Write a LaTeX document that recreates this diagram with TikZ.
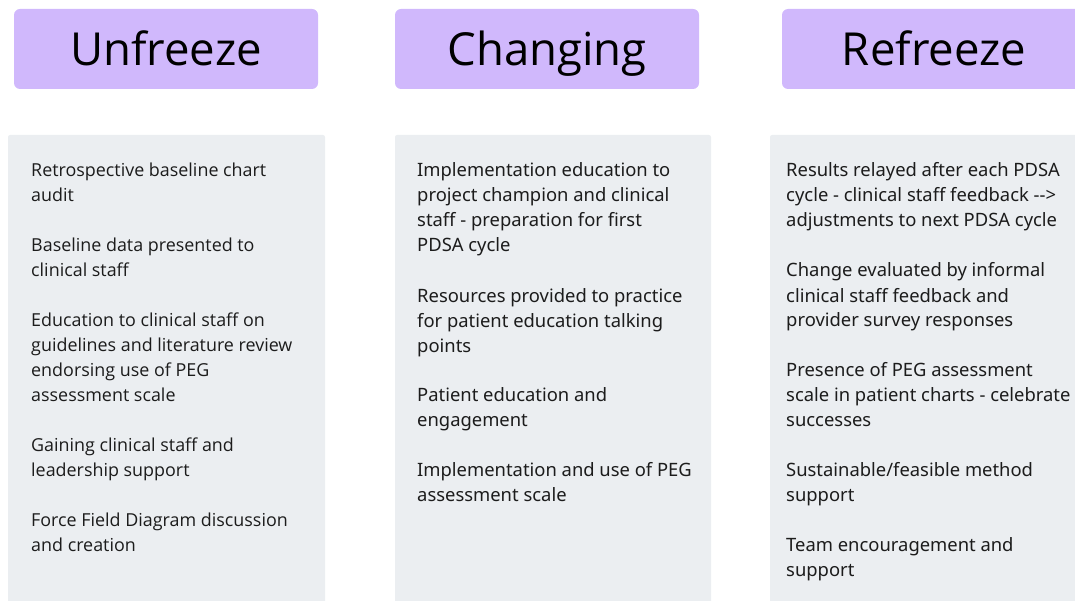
\documentclass[tikz,border=0pt]{standalone}
\usepackage{fontspec}
\setmainfont{Open Sans}
\newfontfamily\bodyfont{Noto Sans}
\definecolor{headfill}{HTML}{D0B8FC}
\definecolor{colfill}{HTML}{EBEEF1}
\definecolor{ink}{HTML}{1C1C1C}
% a block of lines, 25pt apart, whose baseline is that of its first line
\newcommand\lineblock[1]{\vtop{\baselineskip=25pt\lineskiplimit=-20pt #1}}
\newcommand\tline[1]{\hbox{#1}}
\begin{document}
\begin{tikzpicture}[x=1pt,y=-1pt,
  header/.style={fill=headfill,rounded corners=6pt},
  column/.style={fill=colfill,rounded corners=2pt},
  headtext/.style={anchor=base,font=\fontsize{45.5}{50}\selectfont,text=black,inner sep=0pt},
  itemL/.style={anchor=base west,inner sep=0pt,text=ink,font=\fontsize{17.9}{25}\selectfont},
  itemR/.style={anchor=base west,inner sep=0pt,text=ink,font=\bodyfont\fontsize{18.4}{25}\selectfont}]
\useasboundingbox (0,0) rectangle (1075,601);
\clip (0,0) rectangle (1075,601);
% header tabs
\fill[header] (14,9) rectangle (318,89);
\fill[header] (395,9) rectangle (699,89);
\fill[header] (782,9) rectangle (1086,89);
\node[headtext] (h1) at (166,66) {Unfreeze};
\node[headtext] (h2) at (547,66) {Changing};
\node[headtext] (h3) at (934,66) {Refreeze};
% column panels
\fill[column] (8,135) rectangle (325,610);
\fill[column] (395,135) rectangle (711,610);
\fill[column] (770,135) rectangle (1085,610);
% Unfreeze items
\node[itemL] (u1) at (31,177) {\lineblock{\tline{Retrospective baseline chart}\tline{audit}}};
\node[itemL] (u2) at (31,252) {\lineblock{\tline{Baseline data presented to}\tline{clinical staff}}};
\node[itemL] (u3) at (31,326) {\lineblock{\tline{Education to clinical staff on}\tline{guidelines and literature review}\tline{endorsing use of PEG}\tline{assessment scale}}};
\node[itemL] (u4) at (31,451) {\lineblock{\tline{Gaining clinical staff and}\tline{leadership support}}};
\node[itemL] (u5) at (31,526) {\lineblock{\tline{Force Field Diagram discussion}\tline{and creation}}};
% Changing items
\node[itemR] (c1) at (417,177) {\lineblock{\tline{Implementation education to}\tline{project champion and clinical}\tline{staff - preparation for first}\tline{PDSA cycle}}};
\node[itemR] (c2) at (417,302) {\lineblock{\tline{Resources provided to practice}\tline{for patient education talking}\tline{points}}};
\node[itemR] (c3) at (417,401) {\lineblock{\tline{Patient education and}\tline{engagement}}};
\node[itemR] (c4) at (417,476) {\lineblock{\tline{Implementation and use of PEG}\tline{assessment scale}}};
% Refreeze items
\node[itemR] (r1) at (786,177) {\lineblock{\tline{Results relayed after each PDSA}\tline{cycle - clinical staff feedback -{}->}\tline{adjustments to next PDSA cycle}}};
\node[itemR] (r2) at (786,277) {\lineblock{\tline{Change evaluated by informal}\tline{clinical staff feedback and}\tline{provider survey responses}}};
\node[itemR] (r3) at (786,376) {\lineblock{\tline{Presence of PEG assessment}\tline{scale in patient charts - celebrate}\tline{successes}}};
\node[itemR] (r4) at (786,476) {\lineblock{\tline{Sustainable/feasible method}\tline{support}}};
\node[itemR] (r5) at (786,551) {\lineblock{\tline{Team encouragement and}\tline{support}}};
\end{tikzpicture}
\end{document}
